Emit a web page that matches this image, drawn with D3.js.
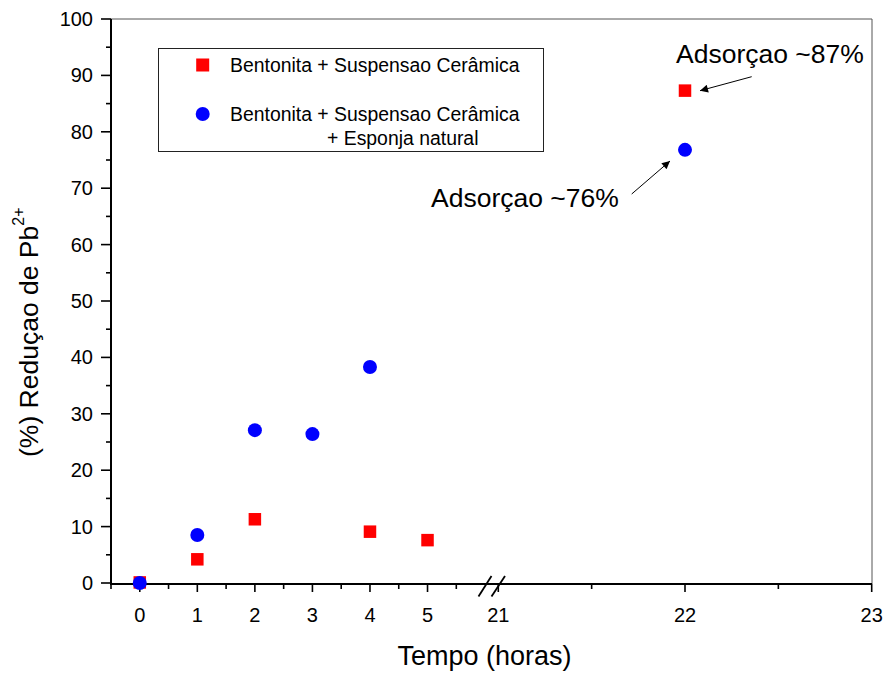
<!DOCTYPE html>
<html>
<head>
<meta charset="utf-8">
<script src="https://cdn.jsdelivr.net/npm/d3@7"></script>
<style>
  html, body { margin: 0; padding: 0; background: #fff; }
  svg { display: block; font-family: Arial, "Liberation Sans", sans-serif; }
</style>
</head>
<body>
<svg id="chart" width="885" height="673"></svg>
<script>
// ---- data ----
const seriesNames = ["Bentonita + Suspensao Cerâmica", "Bentonita + Suspensao Cerâmica", "+ Esponja natural"];
const redHours = [0, 1, 2, 4, 5, 22];
const redValues = [0.1, 4.2, 11.3, 9.1, 7.6, 87.3];
const blueHours = [0, 1, 2, 3, 4, 22];
const blueValues = [0, 8.5, 27.1, 26.4, 38.3, 76.8];
const leftTicks = [0, 1, 2, 3, 4, 5];
const leftMinor = [-0.5, 0.5, 1.5, 2.5, 3.5, 4.5, 5.5];
const rightTicks = [21, 22, 23];
const rightMinor = [21.5, 22.5];
const yTicks = [0, 10, 20, 30, 40, 50, 60, 70, 80, 90, 100];
const yMinor = [5, 15, 25, 35, 45, 55, 65, 75, 85, 95];
const annotations = ["Adsorçao ~87%", "Adsorçao ~76%"];
const xTitle = "Tempo (horas)";
const yTitleMain = "(%) Reduçao de Pb";
const yTitleSup = "2+";

// ---- layout ----
const plotLeft = 111, plotRight = 872, plotTop = 19, plotBottom = 584;
const svg = d3.select("#chart");

const y = d3.scaleLinear().domain([0, 100]).range([583, 19]);
const xL = d3.scaleLinear().domain([-0.5, 5.5]).range([111, 456.3]);
const xR = d3.scaleLinear().domain([21, 23]).range([498.3, 871.7]);
const xPos = h => (h >= 20 ? xR(h) : xL(h));

// frame: top & right thin gray
svg.append("line").attr("x1", plotLeft).attr("x2", plotRight).attr("y1", plotTop).attr("y2", plotTop)
  .attr("stroke", "#555").attr("stroke-width", 1);
svg.append("line").attr("x1", plotRight).attr("x2", plotRight).attr("y1", plotTop).attr("y2", plotBottom)
  .attr("stroke", "#555").attr("stroke-width", 1);

// y axis
const yAxisG = svg.append("g").attr("transform", `translate(${plotLeft},0)`);
yAxisG.append("line").attr("x1", 0).attr("x2", 0).attr("y1", plotTop).attr("y2", plotBottom + 1)
  .attr("stroke", "#000").attr("stroke-width", 2);
yAxisG.selectAll(".ymaj").data(yTicks).join("line")
  .attr("x1", -10).attr("x2", 0).attr("y1", d => y(d)).attr("y2", d => y(d))
  .attr("stroke", "#000").attr("stroke-width", 1.6);
yAxisG.selectAll(".ymin").data(yMinor).join("line")
  .attr("x1", -5).attr("x2", 0).attr("y1", d => y(d)).attr("y2", d => y(d))
  .attr("stroke", "#000").attr("stroke-width", 1.6);
yAxisG.selectAll(".ylab").data(yTicks).join("text")
  .attr("x", -18).attr("y", d => y(d) + 7)
  .attr("text-anchor", "end").attr("font-size", 20).attr("fill", "#000")
  .text(d => d);

// x axis
const xAxisG = svg.append("g");
xAxisG.append("line").attr("x1", plotLeft - 1).attr("x2", plotRight).attr("y1", plotBottom).attr("y2", plotBottom)
  .attr("stroke", "#000").attr("stroke-width", 2);
const majors = leftTicks.map(xL).concat(rightTicks.map(xR));
const majorLabels = leftTicks.concat(rightTicks);
const minors = leftMinor.map(xL).concat(rightMinor.map(xR));
xAxisG.selectAll(".xmaj").data(majors).join("line")
  .attr("x1", d => d).attr("x2", d => d).attr("y1", plotBottom).attr("y2", plotBottom + 8)
  .attr("stroke", "#000").attr("stroke-width", 1.6);
xAxisG.selectAll(".xmin").data(minors).join("line")
  .attr("x1", d => d).attr("x2", d => d).attr("y1", plotBottom).attr("y2", plotBottom + 5)
  .attr("stroke", "#000").attr("stroke-width", 1.6);
xAxisG.selectAll(".xlab").data(majorLabels).join("text")
  .attr("x", d => xPos(d)).attr("y", 622)
  .attr("text-anchor", "middle").attr("font-size", 20).attr("fill", "#000")
  .text(d => d);

// break marks
const brk = [[478.5, 596.5, 491.5, 576], [491.5, 596.5, 505, 576]];
xAxisG.selectAll(".brk").data(brk).join("line")
  .attr("x1", d => d[0]).attr("y1", d => d[1]).attr("x2", d => d[2]).attr("y2", d => d[3])
  .attr("stroke", "#000").attr("stroke-width", 1.8);

// axis titles
svg.append("text").attr("x", 484.5).attr("y", 665).attr("text-anchor", "middle")
  .attr("font-size", 27).attr("fill", "#000").text(xTitle);
const yt = svg.append("text").attr("transform", "translate(38,457) rotate(-90)")
  .attr("text-anchor", "start").attr("font-size", 26.5).attr("fill", "#000");
yt.append("tspan").text(yTitleMain);
yt.append("tspan").attr("font-size", 16).attr("dy", -14).text(yTitleSup);

// data points
const red = redHours.map((h, i) => ({ h, v: redValues[i] }));
const blue = blueHours.map((h, i) => ({ h, v: blueValues[i] }));
const sq = 12.5;
svg.selectAll(".red").data(red).join("rect")
  .attr("x", d => xPos(d.h) - sq / 2).attr("y", d => y(d.v) - sq / 2)
  .attr("width", sq).attr("height", sq).attr("fill", "#ff0000");
svg.selectAll(".blue").data(blue).join("circle")
  .attr("cx", d => xPos(d.h)).attr("cy", d => y(d.v)).attr("r", 7)
  .attr("fill", "#0000ff");

// legend
const lg = svg.append("g");
lg.append("rect").attr("x", 158.5).attr("y", 48.5).attr("width", 385).attr("height", 103)
  .attr("fill", "#fff").attr("stroke", "#222").attr("stroke-width", 1);
lg.append("rect").attr("x", 202.7 - 6.5).attr("y", 65 - 6.5).attr("width", 13).attr("height", 13).attr("fill", "#ff0000");
lg.append("circle").attr("cx", 202.7).attr("cy", 114).attr("r", 7).attr("fill", "#0000ff");
lg.append("text").attr("x", 230).attr("y", 72).attr("font-size", 19.4).attr("fill", "#000").text(seriesNames[0]);
lg.append("text").attr("x", 230).attr("y", 121).attr("font-size", 19.4).attr("fill", "#000").text(seriesNames[1]);
lg.append("text").attr("x", 327).attr("y", 145).attr("font-size", 19.4).attr("fill", "#000").text(seriesNames[2]);

// annotations
svg.append("text").attr("x", 676).attr("y", 63).attr("font-size", 26.5).attr("fill", "#000").text(annotations[0]);
svg.append("text").attr("x", 431).attr("y", 207).attr("font-size", 26.5).attr("fill", "#000").text(annotations[1]);

svg.append("defs").append("marker").attr("id", "ah")
  .attr("viewBox", "0 0 10 10").attr("refX", 10).attr("refY", 5)
  .attr("markerWidth", 12).attr("markerHeight", 8).attr("markerUnits", "userSpaceOnUse")
  .attr("orient", "auto")
  .append("path").attr("d", "M0,0 L10,5 L0,10 Z").attr("fill", "#000");
const arrows = [[751.7, 76.7, 700, 90.7], [631.7, 194, 670, 161]];
svg.selectAll(".arr").data(arrows).join("line")
  .attr("x1", d => d[0]).attr("y1", d => d[1]).attr("x2", d => d[2]).attr("y2", d => d[3])
  .attr("stroke", "#000").attr("stroke-width", 1).attr("marker-end", "url(#ah)");
</script>
</body>
</html>
